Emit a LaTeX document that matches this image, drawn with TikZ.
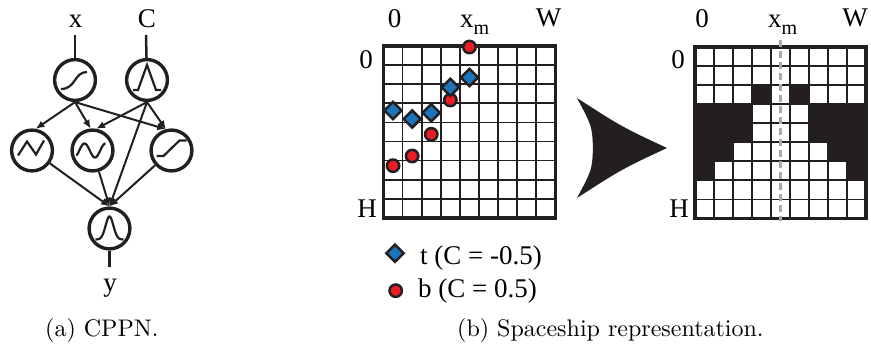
\documentclass[tikz,border=0pt]{standalone}
\usepackage{fontspec}
\usepackage{graphicx}
\newfontfamily\tms{Liberation Serif}
\usetikzlibrary{arrows.meta,calc}
\definecolor{mred}{RGB}{236,28,36}
\definecolor{mblue}{RGB}{28,117,188}
\definecolor{mblack}{RGB}{35,31,32}
\definecolor{dgray}{RGB}{170,170,170}
\newcommand\mydiam[2]{\filldraw[bmark] (#1,#2) +(0,-8.6) -- +(8.6,0) -- +(0,8.6) -- +(-8.6,0) -- cycle;}
\newcommand\mycirc[2]{\filldraw[rmark] (#1,#2) circle[radius=6.2];}
\begin{document}
\begin{tikzpicture}[x=1pt,y=-1pt,
  neuron/.style={circle,draw=mblack,line width=3.4pt,minimum size=40.8pt,inner sep=0pt},
  conn/.style={draw=mblack,line width=2pt,-{Latex[length=8.5pt,width=7.5pt]}},
  io/.style={draw=mblack,line width=2.5pt},
  icon/.style={draw=mblack,line width=2.2pt},
  lbl/.style={font=\tms\fontsize{27}{27}\selectfont,inner sep=0pt,anchor=base},
  lgd/.style={font=\tms\fontsize{27}{27}\selectfont,inner sep=0pt,anchor=base west},
  capt/.style={inner sep=0pt,anchor=base west},
  bmark/.style={fill=mblue,draw=mblack,line width=2.5pt},
  rmark/.style={fill=mred,draw=mblack,line width=2.5pt},
  gridthin/.style={draw=mblack,line width=1.7pt},
  gridthick/.style={draw=mblack,line width=3.2pt}]
\useasboundingbox (0,0) rectangle (871,347);

% ---------------- CPPN ----------------
\node[neuron] (n1) at (75,80) {};
\node[neuron] (n2) at (147,80) {};
\node[neuron] (n3) at (32,150.5) {};
\node[neuron] (n4) at (92.5,150.5) {};
\node[neuron] (n5) at (171.5,150.5) {};
\node[neuron] (n6) at (109.5,228.5) {};

% icons
\draw[icon,shift={(n1.center)}] (-14,9) .. controls (1,9) and (-1,-8) .. (12,-8);
\draw[icon,shift={(n2.center)}] (-14,10) -- (-9,10) -- (0,-15) -- (9,10) -- (14,10);
\draw[icon,shift={(n3.center)}] (-14,5) -- (-5,-9) -- (4,4) -- (12,-10);
\draw[icon,shift={(n4.center)}] plot[domain=-16:13,samples=40] (\x,{-7*cos(360*(\x+8)/21)});
\draw[icon,shift={(n5.center)}] (-15,5.5) -- (-8,5.5) -- (8,-10) -- (15,-10);
\draw[icon,shift={(n6.center)}] plot[domain=-14:14,samples=50] (\x,{11-23*exp(-((\x)*(\x))/30)});

% inputs / output
\node[lbl] (xl) at (75.5,28) {x};
\node[lbl] (cl) at (147,28) {C};
\node[lbl] (yl) at (110,292) {y};
\coordinate (xin) at (75,35);
\coordinate (cin) at (146,35);
\coordinate (yout) at (109.5,267);
\draw[io] (xin) -- (n1);
\draw[io] (cin) -- (n2);
\draw[io] (n6) -- (yout);

% connections
\draw[conn] (n1.south) -- (n3.80);
\draw[conn] (n1.south) -- (n4.95);
\draw[conn] (n1.south) -- (n5.105);
\draw[conn] (n2.south) -- (n4.80);
\draw[conn] (n2.south) -- (n5.105);
\draw[conn] (n2.south) -- (n6.north);
\draw[conn] (n3) -- (n6.north);
\draw[conn] (n4) -- (n6.north);
\draw[conn] (n5) -- (n6.north);

\node[capt] (capa) at (45,337) {\scalebox{2.4}{(a) CPPN.}};

% ---------------- left grid ----------------
\foreach \i in {1,...,8} {
  \draw[gridthin] ({383.5+19.1*\i},46) -- ({383.5+19.1*\i},218);
  \draw[gridthin] (383.5,{46+19.1*\i}) -- (555.4,{46+19.1*\i});
}
\draw[gridthick] (383.5,46) rectangle (555.4,218);

\mycirc{469.45}{47}
\mycirc{450.35}{100}
\mycirc{431.25}{134.3}
\mycirc{412.15}{156}
\mycirc{393.05}{165.7}
\mydiam{393.05}{110.5}
\mydiam{412.15}{119}
\mydiam{431.25}{112.7}
\mydiam{450.35}{87.3}
\mydiam{469.45}{77.5}

\node[lbl] (l0a) at (394.5,28) {0};
\node[lgd] (lxm) at (460,28) {x\raisebox{-7pt}{\fontsize{20}{20}\selectfont m}};
\node[lbl] (lw) at (548.5,27) {W};
\node[lbl] (l0b) at (366,69) {0};
\node[lbl] (lh) at (367,218) {H};

% legend
\mydiam{395}{253.3}
\mycirc{395.7}{290.7}
\node[lgd] (lgt) at (420,265) {t (C = -0.5)};
\node[lgd] (lgb) at (418,298) {b (C = 0.5)};

% ---------------- big arrow ----------------
\fill[mblack] (577,98) .. controls (622,127) .. (667,148) .. controls (622,169) .. (577,198) .. controls (592,170) .. (593,148) .. controls (592,126) .. (577,98) -- cycle;

% ---------------- right grid ----------------
\foreach \c/\r in {3/2,5/2,0/3,1/3,2/3,6/3,7/3,8/3,0/4,1/4,2/4,6/4,7/4,8/4,0/5,1/5,7/5,8/5,0/6,8/6} {
  \fill[mblack] ({695+19*\c},{47+19.05*\r}) rectangle ++(19,19.05);
}
\foreach \i in {1,...,8} {
  \draw[gridthin] ({695+19*\i},47) -- ({695+19*\i},218.5);
  \draw[gridthin] (695,{47+19.05*\i}) -- (866,{47+19.05*\i});
}
\draw[gridthick] (695,47) rectangle (866,218.5);
\draw[dgray,line width=3pt,dash pattern=on 7pt off 4pt] (780.5,40) -- (780.5,221);

\node[lbl] (r0a) at (702,28) {0};
\node[lgd] (rxm) at (768,28) {x\raisebox{-7pt}{\fontsize{20}{20}\selectfont m}};
\node[lbl] (rw) at (855,27) {W};
\node[lbl] (r0b) at (678,69) {0};
\node[lbl] (rh) at (679,218) {H};

\node[capt] (capb) at (457,337) {\scalebox{2.4}{(b) Spaceship representation.}};
\end{tikzpicture}
\end{document}
